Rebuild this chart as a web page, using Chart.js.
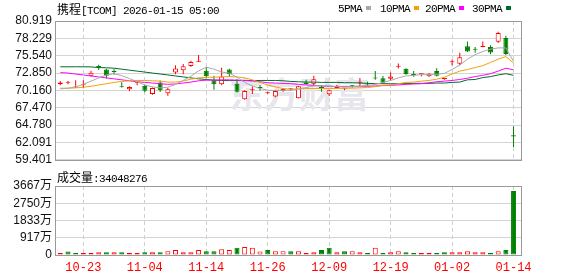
<!DOCTYPE html>
<html>
<head>
<meta charset="utf-8">
<script src="https://cdn.jsdelivr.net/npm/chart.js@4.4.1/dist/chart.umd.min.js"></script>
<style>
  body { margin: 0; background: #fff; }
  #wrap { position: relative; width: 578px; height: 276px; overflow: hidden; }
  .box { position: absolute; left: 0; width: 578px; }
  .txt { position: absolute; font: 11px "Liberation Mono", monospace; letter-spacing: -0.6px; color: #000; white-space: nowrap; line-height: 12px; }
  .cjk { font: 12px "Noto Sans CJK SC", sans-serif; letter-spacing: 0; line-height: 12px; }
  .sw { display: inline-block; width: 5px; height: 4px; margin-left: 4px; vertical-align: 2px; }
</style>
</head>
<body>
<div id="wrap">
  <div class="box" style="top:0;height:170px"><canvas id="price-chart"></canvas></div>
  <div class="box" style="top:170px;height:106px"><canvas id="vol-chart"></canvas></div>

  <div class="txt" style="left:57px;top:3px"><span class="cjk">携程</span>[TCOM] 2026-01-15 05:00</div>
  <div class="txt" style="left:338px;top:3px">5PMA<span class="sw" style="background:#a9a9a9"></span></div>
  <div class="txt" style="left:380px;top:3px">10PMA<span class="sw" style="background:#f0a30a"></span></div>
  <div class="txt" style="left:425px;top:3px">20PMA<span class="sw" style="background:#ff00ff"></span></div>
  <div class="txt" style="left:472px;top:3px">30PMA<span class="sw" style="background:#006b2d"></span></div>
  <div class="txt" style="left:57px;top:171px"><span class="cjk">成交量</span>:34048276</div>
</div>

<script>
/*////////////////////////////////
///            Data            ///
////////////////////////////////*/

const dates = ['10-20', '10-21', '10-22', '10-23', '10-24', '10-27', '10-28', '10-29', '10-30', '10-31',
  '11-03', '11-04', '11-05', '11-06', '11-07', '11-10', '11-11', '11-12', '11-13', '11-14',
  '11-17', '11-18', '11-19', '11-20', '11-21', '11-24', '11-25', '11-26', '11-28',
  '12-01', '12-02', '12-03', '12-04', '12-05', '12-08', '12-09', '12-10', '12-11', '12-12',
  '12-15', '12-16', '12-17', '12-18', '12-19', '12-22', '12-23', '12-24', '12-26', '12-29', '12-30', '12-31',
  '01-02', '01-05', '01-06', '01-07', '01-08', '01-09', '01-12', '01-13', '01-14'];

const dateTicks = [3, 11, 19, 27, 35, 43, 51, 59];

const open = [71.10, 71.33, 70.60, 70.95, 72.45, 73.82, 73.40, 73.05, 70.72, 70.35,
  71.33, 70.83, 69.60, 71.40, 69.70, 72.95, 73.30, 73.95, 74.60, 73.20,
  71.75, 71.10, 73.40, 71.20, 68.80, 70.19, 70.56, 69.70, 69.20, 70.10,
  70.35, 68.95, 71.40, 71.20, 70.60, 69.55, 70.55, 70.40, 70.95, 71.33,
  71.12, 72.06, 72.05, 71.95, 73.82, 73.50, 72.62, 72.65, 72.35, 73.15,
  71.92, 74.52, 74.30, 77.00, 76.55, 76.90, 76.90, 77.70, 78.30, 63.20];

const high = [71.60, 71.60, 71.75, 71.75, 73.20, 74.12, 73.50, 73.42, 71.43, 70.80,
  71.53, 71.09, 70.60, 71.68, 70.53, 74.07, 74.27, 74.75, 75.66, 73.78,
  72.43, 73.67, 73.52, 71.92, 70.20, 70.79, 70.94, 69.95, 70.20, 70.55,
  70.50, 70.90, 71.83, 72.43, 70.94, 70.25, 71.00, 70.50, 71.00, 72.09,
  71.53, 73.18, 72.40, 72.92, 74.32, 73.60, 73.18, 72.75, 72.85, 73.60,
  72.10, 74.92, 76.00, 77.75, 76.90, 77.75, 77.16, 79.25, 78.65, 64.60];

const low = [70.95, 71.10, 70.55, 70.50, 72.30, 73.33, 72.00, 72.60, 70.62, 70.04,
  70.94, 69.89, 69.50, 69.93, 69.34, 72.67, 72.67, 73.83, 74.55, 72.03,
  70.28, 70.94, 72.28, 69.84, 68.70, 69.59, 70.09, 69.60, 69.10, 69.95,
  70.05, 68.90, 71.03, 70.83, 69.94, 69.30, 70.45, 70.20, 70.60, 70.83,
  70.79, 71.83, 71.20, 71.68, 73.57, 72.60, 72.28, 72.35, 72.25, 72.30,
  71.80, 74.07, 74.07, 76.10, 76.00, 76.85, 75.76, 77.50, 75.66, 61.40];

const close = [71.40, 71.33, 70.60, 70.95, 72.90, 73.78, 72.45, 73.00, 70.65, 70.68,
  71.33, 70.10, 70.53, 70.20, 70.34, 73.55, 73.90, 74.55, 74.60, 72.35,
  71.10, 72.30, 72.70, 69.95, 70.05, 70.19, 70.52, 69.70, 70.05, 70.40,
  70.35, 70.80, 71.15, 71.90, 70.55, 70.20, 70.90, 70.40, 70.70, 71.33,
  71.08, 72.02, 71.35, 72.30, 73.82, 72.70, 72.55, 72.65, 72.75, 72.45,
  71.92, 74.52, 75.30, 76.20, 76.45, 76.90, 76.05, 79.05, 75.80, 63.00];

// moving averages
const ma5 = [70.40, 70.50, 70.70, 71.10, 71.60, 72.10, 72.55, 72.75, 72.45, 72.00,
  71.50, 71.00, 70.70, 70.55, 70.65, 71.10, 71.70, 72.35, 73.20, 73.75,
  73.45, 73.00, 72.85, 72.20, 71.40, 70.85, 70.45, 70.20, 70.15, 70.20,
  70.20, 70.35, 70.60, 70.85, 70.90, 70.85, 70.75, 70.70, 70.75, 70.80,
  70.90, 71.10, 71.40, 71.70, 72.10, 72.40, 72.50, 72.60, 72.60, 72.65,
  72.80, 73.40, 74.10, 75.00, 75.70, 76.20, 76.55, 76.75, 76.75, 74.65];

const ma10 = [70.50, 70.50, 70.55, 70.65, 70.80, 71.00, 71.20, 71.40, 71.55, 71.65,
  71.70, 71.70, 71.65, 71.60, 71.45, 71.45, 71.60, 71.90, 72.10, 72.20,
  72.20, 72.25, 72.30, 72.25, 72.10, 71.80, 71.40, 71.00, 70.70, 70.45,
  70.35, 70.40, 70.45, 70.45, 70.45, 70.45, 70.45, 70.50, 70.50, 70.55,
  70.60, 70.75, 70.95, 71.00, 71.20, 71.40, 71.45, 71.60, 71.70, 71.90,
  72.20, 72.70, 73.15, 73.40, 73.70, 74.00, 74.50, 75.00, 75.40, 74.40];

const ma20 = [72.92, 72.85, 72.70, 72.55, 72.40, 72.25, 72.10, 71.95, 71.80, 71.65,
  71.50, 71.40, 71.30, 71.20, 71.10, 71.15, 71.30, 71.45, 71.65, 71.75,
  71.75, 71.80, 71.80, 71.75, 71.70, 71.60, 71.50, 71.35, 71.30, 71.25,
  71.20, 71.10, 71.00, 70.95, 70.85, 70.80, 70.75, 70.75, 70.75, 70.80,
  70.80, 70.85, 70.90, 70.95, 71.00, 71.10, 71.15, 71.20, 71.35, 71.50,
  71.60, 71.70, 71.85, 72.05, 72.30, 72.50, 72.75, 73.15, 73.60, 73.35];

const ma30 = [73.82, 73.82, 73.82, 73.82, 73.80, 73.70, 73.67, 73.60, 73.45, 73.30,
  73.15, 73.00, 72.85, 72.70, 72.55, 72.40, 72.25, 72.10, 71.95, 71.85,
  71.75, 71.70, 71.68, 71.68, 71.68, 71.68, 71.70, 71.70, 71.70, 71.65,
  71.55, 71.50, 71.45, 71.45, 71.40, 71.40, 71.40, 71.35, 71.35, 71.30,
  71.25, 71.20, 71.20, 71.20, 71.20, 71.20, 71.25, 71.25, 71.25, 71.30,
  71.30, 71.40, 71.45, 71.80, 71.85, 72.15, 72.30, 72.55, 72.75, 72.50];

// volume in 万 shares
const volume = [100, 180, 100, 100, 100, 150, 150, 150, 150, 100,
  100, 150, 150, 150, 200, 260, 150, 150, 260, 200,
  200, 300, 260, 380, 420, 380, 180, 260, 200, 200,
  200, 200, 100, 150, 260, 380, 150, 200, 200, 150,
  100, 380, 100, 150, 200, 150, 100, 100, 100, 100,
  150, 150, 150, 200, 150, 150, 100, 200, 260, 3404.8276];

const priceTicks = [59.401, 62.091, 64.780, 67.470, 70.160, 72.850, 75.540, 78.229, 80.919];
const volTicks = [0, 917, 1833, 2750, 3667];

/*////////////////////////////////
///           Styles           ///
////////////////////////////////*/

const RED = '#ff0000';
const GREEN = '#008000';
const xMin = -0.69;
const xMax = 60.1;

function frameOf(color) {
  return {
    id: 'frame',
    afterDatasetsDraw(chart) {
      let a = chart.chartArea;
      let ctx = chart.ctx;
      ctx.save();
      ctx.strokeStyle = color;
      ctx.lineWidth = 1;
      ctx.strokeRect(Math.round(a.left) + 0.5, Math.round(a.top) + 0.5, Math.round(a.width) - 1, Math.round(a.height));
      ctx.restore();
    }
  };
}

const watermark = {
  id: 'watermark',
  beforeDatasetsDraw(chart) {
    let ctx = chart.ctx;
    ctx.save();
    ctx.font = 'bold 35px "Noto Sans CJK SC"';
    ctx.fillStyle = '#e6e6ec';
    ctx.textBaseline = 'middle';
    ctx.fillText('东方财富', 229, 95);
    ctx.restore();
  }
};

const xAxis = (showLabels) => ({
  type: 'linear',
  min: xMin,
  max: xMax,
  offset: false,
  afterBuildTicks: (scale) => { scale.ticks = dateTicks.map(v => ({ value: v })); },
  afterFit: (scale) => { scale.height = showLabels ? 21 : 0; },
  grid: { color: '#cfcfcf', drawTicks: false, offset: false },
  border: { display: false, dash: [4, 3] },
  ticks: {
    display: showLabels,
    autoSkip: false,
    maxRotation: 0,
    padding: 6,
    color: RED,
    font: { family: '"Liberation Mono", monospace', size: 12 },
    callback: (v) => dates[v]
  }
});

const yAxis = (ticks, fmt, max) => ({
  type: 'linear',
  position: 'left',
  min: ticks[0],
  max: max,
  afterBuildTicks: (scale) => { scale.ticks = ticks.map(v => ({ value: v })); },
  afterFit: (scale) => { scale.width = 55; },
  grid: { color: '#d4d4d4', drawTicks: false },
  border: { display: false },
  ticks: {
    autoSkip: false,
    padding: 3,
    color: '#111',
    font: { family: '"Liberation Sans", Arial, "Noto Sans CJK SC"', size: 12 },
    callback: fmt
  }
});

/*////////////////////////////////
///        Price Chart         ///
////////////////////////////////*/

let wicks = [];
let bodies = [];
for (let i = 0; i < dates.length; i++) {
  wicks.push({ x: i, y: [low[i], high[i]] });
  bodies.push({ x: i, y: [Math.min(open[i], close[i]), Math.max(open[i], close[i])] });
}

function candleFill(ctx) {
  let i = ctx.dataIndex;
  if (close[i] > open[i]) return '#ffffff';
  if (close[i] < open[i]) return GREEN;
  return RED;
}
function candleLine(ctx) {
  let i = ctx.dataIndex;
  return close[i] >= open[i] ? RED : GREEN;
}

function maLine(data, color, order) {
  return {
    type: 'line',
    data: data.map((v, i) => ({ x: i, y: v })),
    borderColor: color,
    borderWidth: 1,
    pointRadius: 0,
    tension: 0,
    order: order
  };
}

let price = document.getElementById('price-chart').getContext('2d');
let priceChart = new Chart(price, {
  type: 'bar',
  data: {
    datasets: [
      maLine(ma5, '#a9a9a9', 0),
      maLine(ma10, '#f0a30a', 1),
      maLine(ma20, '#ff00ff', 2),
      maLine(ma30, '#006b2d', 3),
      {
        data: bodies,
        barThickness: 5,
        grouped: false,
        minBarLength: 1,
        backgroundColor: candleFill,
        borderColor: candleLine,
        borderWidth: 1,
        borderSkipped: false,
        inflateAmount: 0,
        order: 4
      },
      {
        data: wicks,
        barThickness: 1,
        grouped: false,
        backgroundColor: candleLine,
        borderWidth: 0,
        inflateAmount: 0,
        order: 5
      }
    ]
  },
  options: {
    responsive: true,
    maintainAspectRatio: false,
    animation: false,
    layout: { padding: { top: 21, right: 56, bottom: 4, left: 0 } },
    scales: {
      x: xAxis(false),
      y: yAxis(priceTicks, (v) => v.toFixed(3), priceTicks[priceTicks.length - 1])
    },
    plugins: {
      legend: { display: false },
      tooltip: { enabled: false }
    }
  },
  plugins: [watermark, frameOf('#9a9a9a')]
});

/*////////////////////////////////
///        Volume Chart        ///
////////////////////////////////*/

function volUp(i) {
  return i == 0 ? close[i] >= open[i] : close[i] >= close[i - 1];
}

let vol = document.getElementById('vol-chart').getContext('2d');
let volChart = new Chart(vol, {
  type: 'bar',
  data: {
    datasets: [{
      data: volume.map((v, i) => ({ x: i, y: v })),
      barThickness: 5,
      grouped: false,
      backgroundColor: (ctx) => volUp(ctx.dataIndex) ? '#ffffff' : GREEN,
      borderColor: (ctx) => volUp(ctx.dataIndex) ? RED : GREEN,
      borderWidth: 1,
      borderSkipped: false,
      inflateAmount: 0
    }]
  },
  options: {
    responsive: true,
    maintainAspectRatio: false,
    animation: false,
    layout: { padding: { top: 16, right: 56, bottom: 0, left: 0 } },
    scales: {
      x: xAxis(true),
      y: yAxis(volTicks, (v) => v == 0 ? '0' : v + '万', volTicks[volTicks.length - 1])
    },
    plugins: {
      legend: { display: false },
      tooltip: { enabled: false }
    }
  },
  plugins: [frameOf('#9a9a9a')]
});
</script>
</body>
</html>
